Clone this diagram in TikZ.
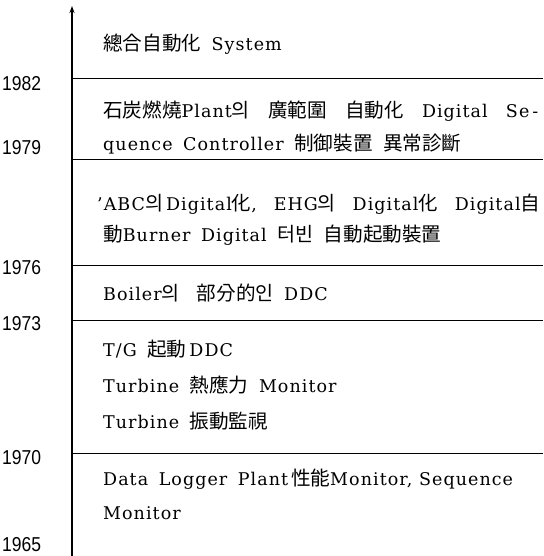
\documentclass[tikz,border=0pt]{standalone}
\usepackage{fontspec}
\usepackage{graphicx}
\setmainfont{DejaVu Serif}[LetterSpace=6]
\newfontfamily\kr{Noto Sans CJK KR}[Scale=1.12]
\newfontfamily\yrfont{Liberation Sans}
\usetikzlibrary{arrows.meta}
\newcommand{\yrtext}[1]{\scalebox{1}[1.15]{#1}}
\newcommand{\gap}{\hspace{0.6em}}
\newcommand{\sgap}{\hspace{0.5em plus 1fil}}
\begin{document}
\begin{tikzpicture}[x=1pt,y=-1pt,
  txt/.style={anchor=base west,inner sep=0pt,font=\fontsize{17.5}{19}\selectfont},
  yr/.style={anchor=base west,inner sep=0pt,font=\yrfont\fontsize{17.5}{18}\selectfont},
  sep/.style={line width=1pt}]
\useasboundingbox (0,0) rectangle (543,556);
\coordinate (bot) at (72,556);
\coordinate (top) at (72,6);
\draw[line width=1.2pt,-{Stealth[length=7pt,width=5pt]}] (bot) -- (top);
\foreach \n/\y in {a/79,b/160,c/265,d/320,e/453}{
  \coordinate (\n l) at (72,\y);
  \coordinate (\n r) at (543,\y);
  \draw[sep] (\n l) -- (\n r);
}
\node[yr] (y82) at (2,91) {\yrtext{1982}};
\node[yr] (y79) at (2,155) {\yrtext{1979}};
\node[yr] (y76) at (2,274) {\yrtext{1976}};
\node[yr] (y73) at (2,330) {\yrtext{1973}};
\node[yr] (y70) at (2,464) {\yrtext{1970}};
\node[yr] (y65) at (2,551) {\yrtext{1965}};
\node[txt] (t1) at (103,51) {{\kr 總合自動化}\gap System};
\node[txt] (t2) at (103,118) {\makebox[435pt][s]{{\kr 石炭燃燒}Plant{\kr 의}\sgap{\kr 廣範圍}\sgap{\kr 自動化}\sgap Digital\sgap Se\,-}};
\node[txt] (t3) at (103,150) {quence\gap Controller\gap{\kr 制御裝置}\gap{\kr 異常診斷}};
\node[txt] (t4) at (97,210) {\makebox[443pt][s]{\textquoteright ABC{\kr 의}\,Digital{\kr 化},\sgap EHG{\kr 의}\sgap Digital{\kr 化}\sgap Digital{\kr 自}}};
\node[txt] (t5) at (103,241) {{\kr 動}Burner\gap Digital\gap{\kr 터빈}\gap{\kr 自動起動裝置}};
\node[txt] (t6) at (103,300) {Boiler{\kr 의}\gap\ {\kr 部分的인}\gap DDC};
\node[txt] (t7) at (103,356) {T/G\gap{\kr 起動}\,DDC};
\node[txt] (t8) at (103,392) {Turbine\gap{\kr 熱應力}\gap Monitor};
\node[txt] (t9) at (103,428) {Turbine\gap{\kr 振動監視}};
\node[txt] (t10) at (103,485) {Data\gap Logger\gap Plant\,{\kr 性能}Monitor,\ Sequence};
\node[txt] (t11) at (103,519) {Monitor};
\end{tikzpicture}
\end{document}
